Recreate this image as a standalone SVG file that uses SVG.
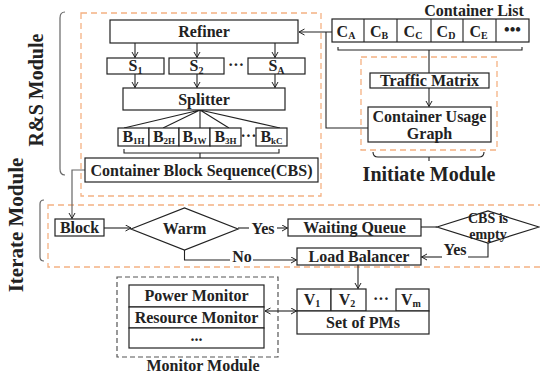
<svg xmlns="http://www.w3.org/2000/svg" width="540" height="381" viewBox="0 0 540 381">
<defs>
<marker id="ar" markerWidth="8" markerHeight="8" refX="6" refY="3.5" orient="auto-start-reverse" markerUnits="userSpaceOnUse">
<path d="M0.5,0.5 L6,3.5 L0.5,6.5" fill="none" stroke="#222" stroke-width="1"/>
</marker>
</defs>
<style>
text{font-family:"Liberation Serif","Times New Roman",serif;font-weight:bold;fill:#222;text-anchor:middle}
.t{font-size:16px}
.s{font-size:10px}
.b{fill:#fff;stroke:#222;stroke-width:1.2}
.c{fill:none;stroke:#222;stroke-width:1.1}
.g{fill:none;stroke:#666;stroke-width:1.2}
.o{fill:none;stroke:#F4B183;stroke-width:1.3;stroke-dasharray:6,4}
.gd{fill:none;stroke:#555;stroke-width:1.2;stroke-dasharray:5,3}
.m{font-size:20px}
</style>

<!-- module frames and labels -->
<g id="rs-module">
<rect class="o" x="81" y="13" width="240" height="183"/>
<path class="g" d="M65,12 Q60,12 60,18 V169 Q60,175 65,175"/>
<text class="m" transform="translate(43,90) rotate(-90)">R&amp;S Module</text>
</g>
<g id="iterate-module">
<rect class="o" x="48" y="205" width="500" height="62"/>
<path class="g" d="M44,200 Q40,200 40,204 V257 Q40,261 44,261"/>
<text class="m" style="font-size:21px" transform="translate(23,225) rotate(-90)">Iterate Module</text>
</g>
<g id="initiate-module">
<rect class="o" x="361" y="57" width="136" height="93"/>
<path class="c" d="M373,152 Q373,157 378,157 H479 Q484,157 484,152 M429,157 V161"/>
<text class="m" x="429" y="181">Initiate Module</text>
</g>
<g id="monitor-module">
<rect class="gd" x="117" y="277" width="161" height="80"/>
<text class="t" x="203" y="371">Monitor Module</text>
</g>

<!-- connectors -->
<g id="connectors">
<line class="c" x1="135" y1="43" x2="135" y2="57.5" marker-end="url(#ar)"/>
<line class="c" x1="197" y1="43" x2="197" y2="57.5" marker-end="url(#ar)"/>
<line class="c" x1="275" y1="43" x2="275" y2="57.5" marker-end="url(#ar)"/>
<line class="c" x1="135" y1="74" x2="135" y2="87.5" marker-end="url(#ar)"/>
<line class="c" x1="197" y1="74" x2="197" y2="87.5" marker-end="url(#ar)"/>
<line class="c" x1="275" y1="74" x2="275" y2="87.5" marker-end="url(#ar)"/>
<path class="c" d="M200,110 L124,128 M200,110 L163,128 M200,110 V128 M200,110 L229,128 M200,110 L280,128"/>
<path class="c" d="M124,149 V153 H279 V149 M200,153 V158"/>
<path class="c" d="M332,32 H299" marker-end="url(#ar)"/>
<path class="c" d="M368,128 H326 V32"/>
<path class="c" d="M338,47 V50 H522 V47 M429,50 V73"/>
<line class="c" x1="429" y1="88" x2="429" y2="106.5" marker-end="url(#ar)"/>
<path class="g" d="M85,170 H72 V218.5" marker-end="url(#ar)"/>
<line class="c" x1="104" y1="228" x2="131" y2="228" marker-end="url(#ar)"/>
<line class="c" x1="238" y1="228" x2="249" y2="228"/>
<line class="c" x1="277" y1="228" x2="287.5" y2="228" marker-end="url(#ar)"/>
<line class="c" x1="421" y1="227" x2="437" y2="227"/>
<path class="c" d="M488,243 V257 H468"/>
<line class="c" x1="442" y1="257" x2="421.5" y2="257" marker-end="url(#ar)"/>
<path class="c" d="M184.5,250 V260 H230"/>
<line class="c" x1="253" y1="260" x2="296.5" y2="260" marker-end="url(#ar)"/>
<line class="c" x1="358" y1="265" x2="358" y2="288.5" marker-end="url(#ar)"/>
<line class="c" x1="265" y1="311" x2="296.5" y2="311" marker-start="url(#ar)" marker-end="url(#ar)"/>
<text class="t" x="263" y="234">Yes</text>
<text class="t" x="455" y="255">Yes</text>
<text class="t" x="242" y="262">No</text>
</g>

<!-- R&S nodes -->
<g id="refiner">
<rect class="b" x="110" y="20" width="188" height="23"/>
<text class="t" x="204" y="37">Refiner</text>
</g>
<g id="s1">
<rect class="b" x="107" y="58" width="57" height="16"/>
<text class="t" x="135.5" y="71">S<tspan class="s" dy="3">1</tspan></text>
</g>
<g id="s2">
<rect class="b" x="169" y="58" width="55" height="16"/>
<text class="t" x="196.5" y="71">S<tspan class="s" dy="3">2</tspan></text>
</g>
<g id="s-dots"><text class="t" x="236" y="70">···</text></g>
<g id="sa">
<rect class="b" x="248" y="58" width="57" height="16"/>
<text class="t" x="276.5" y="71">S<tspan class="s" dy="3">A</tspan></text>
</g>
<g id="splitter">
<rect class="b" x="123" y="88" width="162" height="22"/>
<text class="t" x="204" y="105">Splitter</text>
</g>
<g id="blocks">
<rect class="b" x="118" y="128" width="31" height="18"/>
<rect class="b" x="149" y="128" width="30" height="18"/>
<rect class="b" x="179" y="128" width="31" height="18"/>
<rect class="b" x="210" y="128" width="31" height="18"/>
<rect class="b" x="256" y="128" width="31" height="18"/>
<text class="t" x="133.5" y="142">B<tspan style="font-size:9px" dy="2">1H</tspan></text>
<text class="t" x="164" y="142">B<tspan style="font-size:9px" dy="2">2H</tspan></text>
<text class="t" x="194.5" y="142">B<tspan style="font-size:9px" dy="2">1W</tspan></text>
<text class="t" x="225.5" y="142">B<tspan style="font-size:9px" dy="2">3H</tspan></text>
<text class="t" x="248.5" y="141">···</text>
<text class="t" x="271.5" y="142">B<tspan style="font-size:9px" dy="2">kC</tspan></text>
</g>
<g id="cbs">
<rect class="b" x="85" y="158" width="233" height="24"/>
<text class="t" x="201.5" y="176">Container Block Sequence(CBS)</text>
</g>

<!-- Initiate nodes -->
<g id="container-list">
<text class="t" x="474" y="16">Container List</text>
<rect class="b" x="332" y="19" width="197" height="23"/>
<path class="c" d="M364,19 V42 M397,19 V42 M431,19 V42 M463,19 V42 M496,19 V42"/>
<text class="t" x="346" y="37">C<tspan class="s" dy="2">A</tspan></text>
<text class="t" x="379" y="37">C<tspan class="s" dy="2">B</tspan></text>
<text class="t" x="413" y="37">C<tspan class="s" dy="2">C</tspan></text>
<text class="t" x="446" y="37">C<tspan class="s" dy="2">D</tspan></text>
<text class="t" x="478.5" y="37">C<tspan class="s" dy="2">E</tspan></text>
<text class="t" x="512.5" y="35">•••</text>
</g>
<g id="traffic-matrix">
<rect class="b" x="370" y="73" width="119" height="15"/>
<text class="t" x="429.5" y="86">Traffic Matrix</text>
</g>
<g id="usage-graph">
<rect class="b" x="368" y="107" width="123" height="35"/>
<text class="t" x="429.5" y="122">Container Usage</text>
<text class="t" x="429.5" y="139">Graph</text>
</g>

<!-- Iterate nodes -->
<g id="block">
<rect class="b" x="55" y="219" width="49" height="17"/>
<text class="t" x="79.5" y="233">Block</text>
</g>
<g id="warm">
<polygon class="b" points="131,229 184.5,208 238,229 184.5,250"/>
<text class="t" x="184.5" y="234">Warm</text>
</g>
<g id="waiting-queue">
<rect class="b" x="288" y="219" width="133" height="17"/>
<text class="t" x="354.5" y="233">Waiting Queue</text>
</g>
<g id="cbs-empty">
<polygon class="b" points="437,227 488,211 539,227 488,243"/>
<text class="t" style="font-size:14px" x="488" y="223">CBS is</text>
<text class="t" style="font-size:14px" x="488" y="239">empty</text>
</g>
<g id="load-balancer">
<rect class="b" x="297" y="248" width="124" height="17"/>
<text class="t" x="359" y="262">Load Balancer</text>
</g>

<!-- PMs -->
<g id="pms">
<rect class="b" x="297" y="289" width="34" height="22"/>
<rect class="b" x="331" y="289" width="35" height="22"/>
<rect class="b" x="396" y="289" width="33" height="22"/>
<rect class="b" x="297" y="311" width="132" height="23"/>
<text class="t" x="312" y="305">V<tspan class="s" dy="2">1</tspan></text>
<text class="t" x="347" y="305">V<tspan class="s" dy="2">2</tspan></text>
<text class="t" x="381" y="304">···</text>
<text class="t" x="411" y="305">V<tspan class="s" dy="2">m</tspan></text>
<text class="t" x="363" y="328">Set of PMs</text>
</g>

<!-- Monitors -->
<g id="monitors">
<rect class="b" x="129" y="285" width="135" height="22"/>
<rect class="b" x="129" y="307" width="135" height="21"/>
<rect class="b" x="129" y="328" width="135" height="20"/>
<text class="t" x="196.5" y="301">Power Monitor</text>
<text class="t" x="196.5" y="323">Resource Monitor</text>
<text class="t" x="196.5" y="341">...</text>
</g>
</svg>
